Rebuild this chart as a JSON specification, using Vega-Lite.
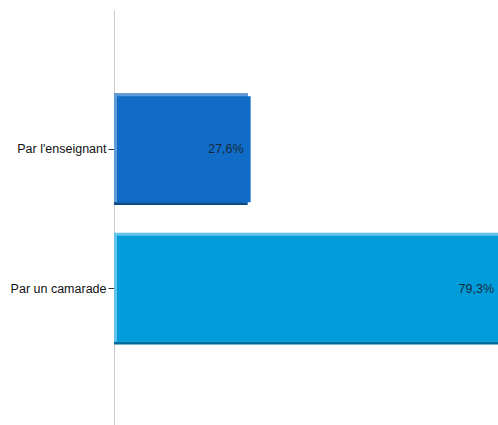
{
  "$schema": "https://vega.github.io/schema/vega-lite/v6.json",
  "autosize": "none",
  "width": 384,
  "height": 418,
  "padding": {"left": 114, "top": 10, "right": 0, "bottom": 0},
  "background": "white",
  "config": {
    "view": {"stroke": null},
    "font": "Liberation Sans",
    "locale": {"number": {"decimal": ",", "thousands": " ", "grouping": [3], "currency": ["", "%"]}}
  },
  "data": {
    "values": [
      {"mode": "Par l'enseignant", "pct": 27.6},
      {"mode": "Par un camarade", "pct": 79.3}
    ]
  },
  "encoding": {
    "y": {
      "field": "mode", "type": "nominal", "sort": null,
      "scale": {"paddingInner": 0.2, "paddingOuter": 0.6},
      "axis": {
        "title": null, "domainColor": "#cccccc", "domainWidth": 1,
        "tickColor": "#333333", "tickSize": 6, "labelPadding": 2,
        "labelFontSize": 12.5, "labelColor": "#111111", "labelFont": "Liberation Sans"
      }
    },
    "x": {
      "field": "pct", "type": "quantitative",
      "scale": {"domain": [0, 79.3], "nice": false},
      "axis": null
    }
  },
  "layer": [
    {
      "mark": {"type": "bar", "clip": true},
      "encoding": {
        "color": {"field": "mode", "type": "nominal", "legend": null,
          "scale": {"domain": ["Par l'enseignant", "Par un camarade"], "range": ["#0a4a88", "#006b9c"]}}
      }
    },
    {
      "mark": {"type": "bar", "clip": true, "height": 109, "yOffset": -1.5, "x2Offset": -3},
      "encoding": {
        "color": {"field": "mode", "type": "nominal", "legend": null,
          "scale": {"domain": ["Par l'enseignant", "Par un camarade"], "range": ["#5e9ad6", "#62c3ec"]}}
      }
    },
    {
      "mark": {"type": "bar", "clip": true, "height": 106, "xOffset": 3, "x2Offset": -3},
      "encoding": {
        "color": {"field": "mode", "type": "nominal", "legend": null,
          "scale": {"domain": ["Par l'enseignant", "Par un camarade"], "range": ["#106cc6", "#009cd9"]}}
      }
    },
    {
      "mark": {"type": "text", "align": "right", "baseline": "middle", "dx": -4, "fontSize": 12.5, "color": "#172a3c", "font": "Liberation Sans"},
      "encoding": {
        "text": {"field": "pct", "type": "quantitative", "format": "$.1f"}
      }
    }
  ],
  "resolve": {"scale": {"color": "independent"}}
}
